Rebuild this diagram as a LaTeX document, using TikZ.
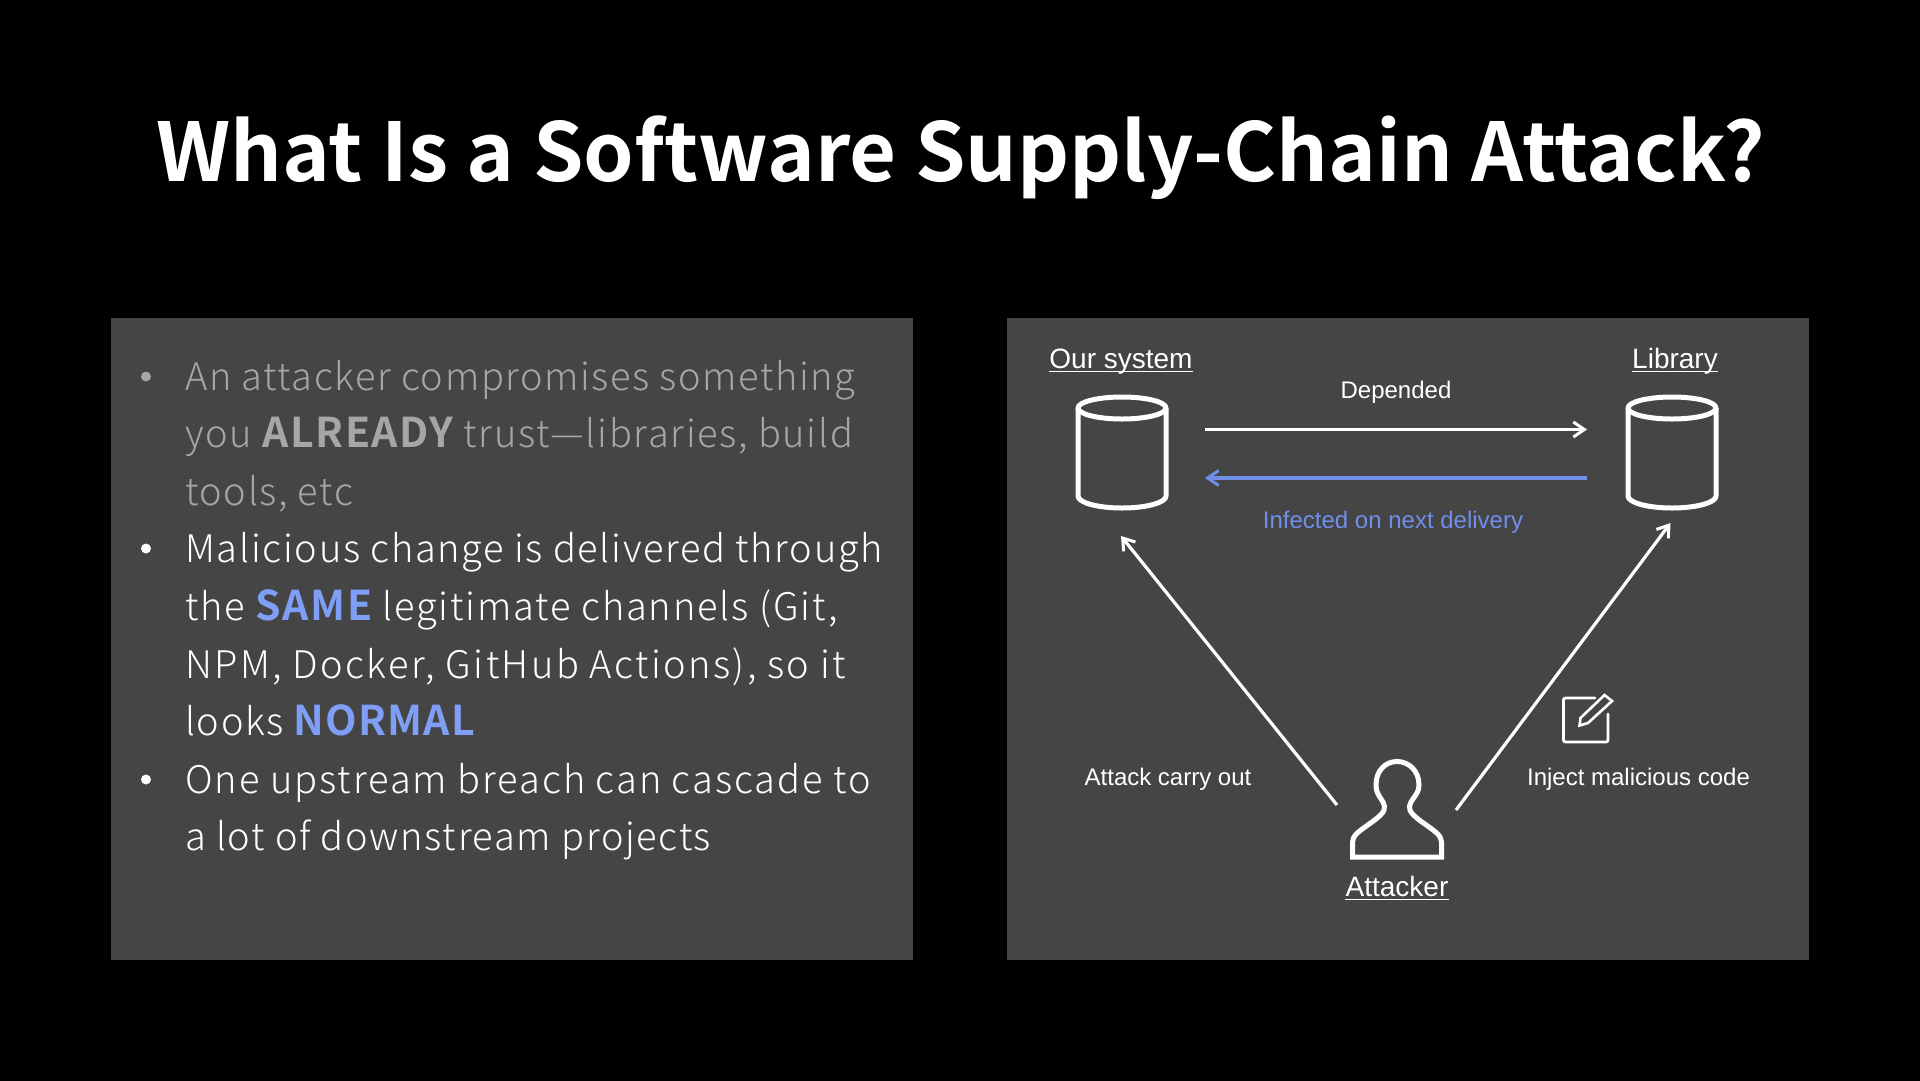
\documentclass[tikz,border=0pt]{standalone}
\usepackage{fontspec}
\usetikzlibrary{arrows.meta,calc}
\setmainfont{Liberation Sans}
\newfontfamily\titlefont[LetterSpace=0.05]{Noto Sans CJK JP Bold}
\newfontfamily\bodyfont[LetterSpace=4.2]{Noto Sans CJK JP Light}
\newfontfamily\bodyb[LetterSpace=4.5]{Noto Sans CJK JP Light}
\newfontfamily\bodyc[LetterSpace=4.9]{Noto Sans CJK JP Light}
\newfontfamily\bodyd[LetterSpace=5.2]{Noto Sans CJK JP Light}
\newfontfamily\bodye[LetterSpace=6.3]{Noto Sans CJK JP Light}
\newfontfamily\heavyfont[LetterSpace=4]{Noto Sans CJK JP Bold}
\newfontfamily\heavytight[LetterSpace=2.8]{Noto Sans CJK JP Bold}
\newcommand{\heavyword}[1]{{\heavyfont\fontsize{41}{46}\selectfont #1}}
\newcommand{\heavytword}[1]{{\heavytight\fontsize{41}{46}\selectfont #1}}
\newcommand{\bsize}{\fontsize{38}{46}\selectfont}
\definecolor{panel}{HTML}{454545}
\definecolor{dimtext}{HTML}{A6A6A6}
\definecolor{accent}{HTML}{7F9EF5}
\definecolor{linkblue}{HTML}{6F8FEA}
\tikzset{
  panelbox/.style={fill=panel,draw=none},
  bodyline/.style={anchor=base west,inner sep=0pt,font=\bodyfont\bsize,text=white},
  dimline/.style={bodyline,text=dimtext},
  diag/.style={anchor=base,inner sep=0pt,font=\fontsize{24}{29}\selectfont,text=white},
  head/.style={anchor=base,inner sep=0pt,font=\fontsize{28}{34}\selectfont,text=white},
  barb/.style={-{Straight Barb[length=11pt,width=15pt,line width=3pt]}},
  link/.style={barb,draw=white,line width=3.2pt},
  drum/.style={draw=white,line width=5pt,line join=round},
  ulinestyle/.style={draw=white,line width=1.8pt},
  bulletdot/.style={circle,inner sep=0pt,minimum size=10pt,fill=white}
}
\begin{document}
\begin{tikzpicture}[x=1pt,y=-1pt]
\useasboundingbox (0,0) rectangle (1920,1080);
\fill[black] (-6,-6) rectangle (1926,1086);
\node[panelbox,anchor=north west,minimum width=802pt,minimum height=642pt,inner sep=0pt] (left) at (111,318) {};
\node[panelbox,anchor=north west,minimum width=802.5pt,minimum height=642pt,inner sep=0pt] (right) at (1006.5,318) {};
\node[anchor=base,inner sep=0pt,text=white,font=\titlefont\fontsize{81}{96}\selectfont] (title) at (961,181) {What Is a Software Supply-Chain Attack?};
% bullets
\node[bulletdot,fill=dimtext] (b1) at (146,376.5) {};
\node[bulletdot] (b2) at (146,548.5) {};
\node[bulletdot] (b3) at (146,779.5) {};
\node[dimline] (l1) at (185,390) {An attacker compromises something};
\node[dimline] (l2) at (185,447.6) {\bodyb\bsize you \heavyword{ALREADY} trust—libraries, build};
\node[dimline] (l3) at (185,505.2) {tools, etc};
\node[bodyline] (l4) at (185,562.8) {\bodyb\bsize Malicious change is delivered through};
\node[bodyline] (l5) at (185,620.4) {\bodyc\bsize the \heavyword{\textcolor{accent}{SAME}} legitimate channels (Git,};
\node[bodyline] (l6) at (185,678) {\bodye\bsize NPM, Docker, GitHub Actions), so it};
\node[bodyline] (l7) at (185,735.6) {looks \heavytword{\textcolor{accent}{NORMAL}}};
\node[bodyline] (l8) at (185,793.2) {\bodyd\bsize One upstream breach can cascade to};
\node[bodyline] (l9) at (185,850.8) {\bodyb\bsize a lot of downstream projects};
% cylinders
\foreach \n/\cx in {sys/1122,lib/1672}{
  \coordinate (\n) at (\cx,452);
  \draw[drum] ($(\n)+(-44,-44)$) -- ($(\n)+(-44,44)$) arc[start angle=180,end angle=360,x radius=44,y radius=-12] -- ($(\n)+(44,-44)$);
  \draw[drum] ($(\n)+(0,-44)$) ellipse[x radius=44,y radius=11];
}
% texts
\node[head] (ours) at (1121,368) {Our system};
\node[head] (libt) at (1675,368) {Library};
\node[head] (att) at (1397,896) {Attacker};
\foreach \n in {ours,libt,att}{
  \draw[ulinestyle] ([yshift=-3.5pt]\n.base west) -- ([yshift=-3.5pt]\n.base east);
}
\node[diag] (dep) at (1396,398) {Depended};
\node[diag,text=linkblue] (inf) at (1393,528) {Infected on next delivery};
\node[diag] (car) at (1168,785) {Attack carry out};
\node[diag] (inj) at (1638.5,785) {Inject malicious code};
% connectors
\coordinate (a1) at (1205,429.5); \coordinate (a2) at (1587,429.5);
\coordinate (b1s) at (1587,478); \coordinate (b1e) at (1205,478);
\coordinate (c1) at (1337,805); \coordinate (c2) at (1121,536);
\coordinate (d1) at (1456,810); \coordinate (d2) at (1670.5,523);
\draw[link] (a1) -- (a2);
\draw[link,draw=linkblue,line width=3.5pt] (b1s) -- (b1e);
\draw[link] (c1) -- (c2);
\draw[link] (d1) -- (d2);
% person
\draw[white,line width=5pt,line join=miter] (1352.5,857) -- (1352.5,842)
  .. controls (1353,835) and (1358,832) .. (1372,822)
  .. controls (1386,812) and (1386,808) .. (1383,802)
  .. controls (1378,794) and (1376,792) .. (1376,785)
  .. controls (1376,770) and (1386,761.5) .. (1397,761.5)
  .. controls (1408,761.5) and (1419,770) .. (1419,785)
  .. controls (1419,792) and (1416,794) .. (1411,802)
  .. controls (1408,808) and (1408,812) .. (1422,822)
  .. controls (1436,832) and (1441,835) .. (1441.5,842)
  -- (1441.5,857) -- cycle;
% note icon
\draw[white,line width=2.8pt,line cap=round,line join=round,rounded corners=2pt] (1595,698) -- (1563.5,698) -- (1563.5,742) -- (1608,742) -- (1608,714);
\draw[white,line width=2.6pt,line join=miter] (1579.5,725.5) -- (1580.5,718) -- (1604.5,695) -- (1612,701) -- (1588,723) -- cycle;
\end{tikzpicture}
\end{document}
